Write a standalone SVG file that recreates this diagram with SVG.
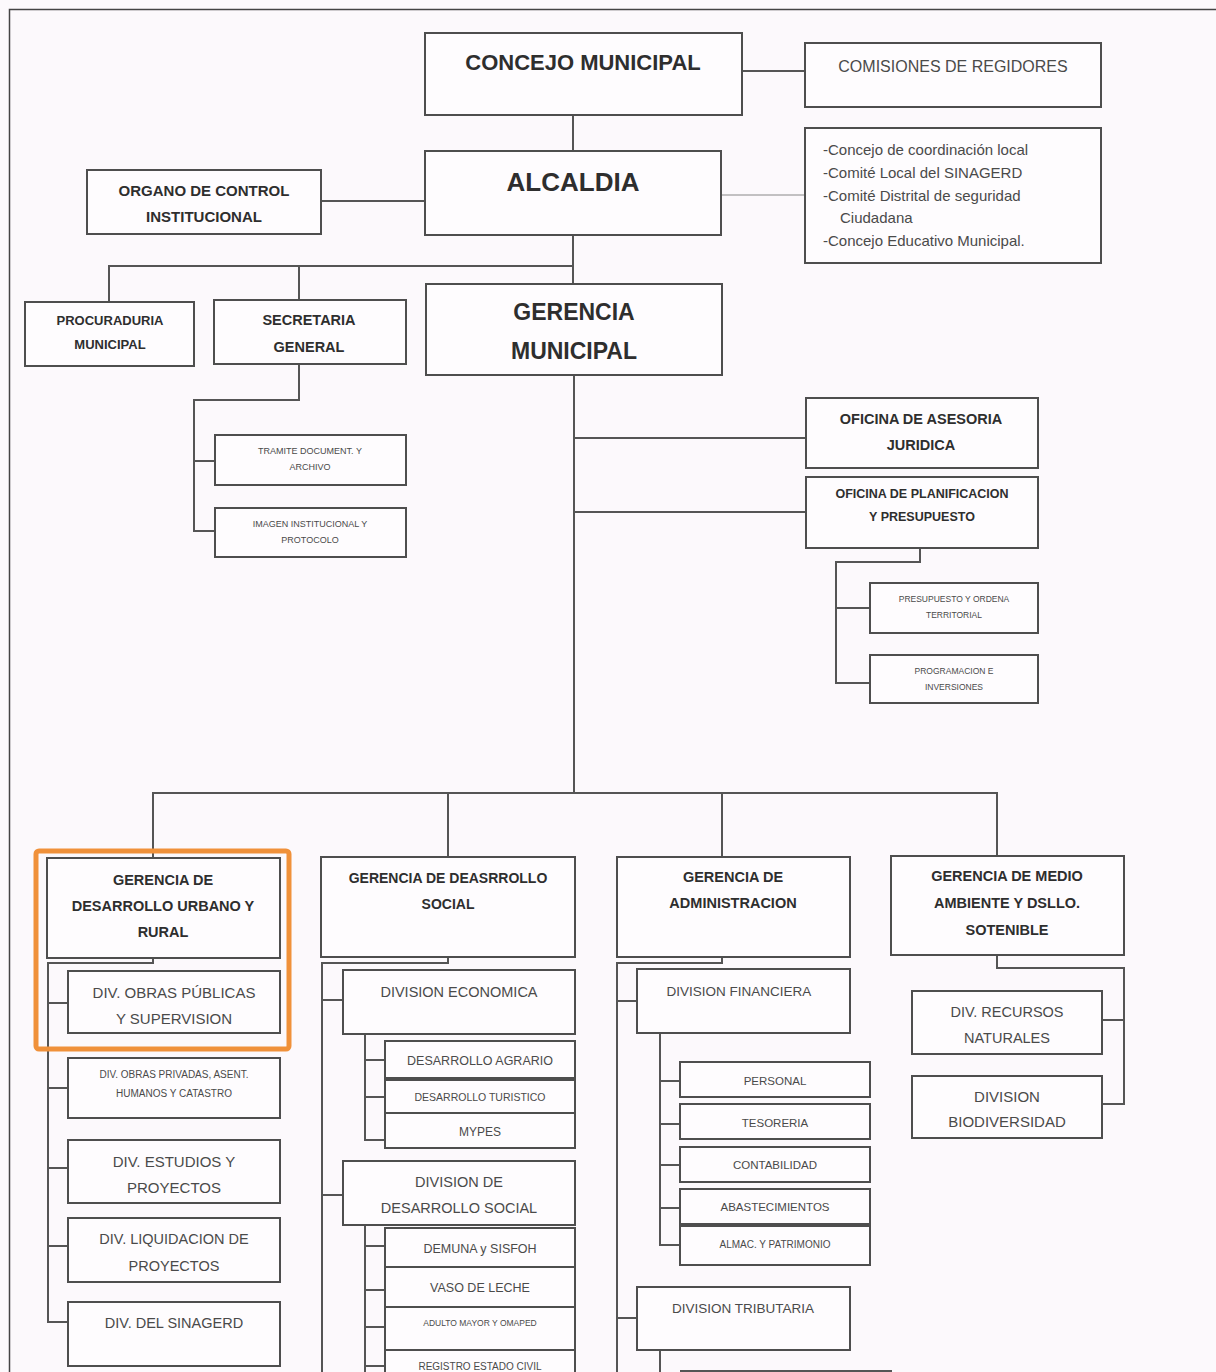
<svg xmlns="http://www.w3.org/2000/svg" width="1216" height="1372" viewBox="0 0 1216 1372">
<style>
.bg{fill:#fcf9fc}
.b{fill:#fefcfe;stroke:#4e4e4e;stroke-width:2}
.l{fill:none;stroke:#555;stroke-width:2}
.thin{fill:none;stroke:#888;stroke-width:1}
text{font-family:"Liberation Sans",Arial,sans-serif;text-anchor:middle}
.tb{font-weight:bold;fill:#2e2e2e}
.tr{fill:#4a4a4a}
.tl{fill:#4a4a4a;text-anchor:start}
</style>
<rect class="bg" x="0" y="0" width="1216" height="1372"/>
<path d="M9.5 1372V9.5H1216" fill="none" stroke="#444" stroke-width="1.5"/>

<g id="connectors">
<path class="l" d="M742 71H805"/>
<path class="l" d="M573 115V151"/>
<path class="thin" d="M721 195H805"/>
<path class="l" d="M321 201H425"/>
<path class="l" d="M573 235V285"/>
<path class="l" d="M109 302V266H573"/>
<path class="l" d="M299 266V300"/>
<path class="l" d="M299 364V400H194V531H215"/>
<path class="l" d="M194 461H215"/>
<path class="l" d="M574 375V793"/>
<path class="l" d="M574 438H806"/>
<path class="l" d="M574 512H806"/>
<path class="l" d="M920 548V562H836V683H870"/>
<path class="l" d="M836 608H870"/>
<path class="l" d="M153 858V793H997V856"/>
<path class="l" d="M448 793V857"/>
<path class="l" d="M722 793V857"/>
<path class="l" d="M153 958V963H48V1322H68"/>
<path class="l" d="M48 1003H68M48 1088H68M48 1168H68M48 1246H68"/>
<path class="l" d="M448 957V963H322V1372"/>
<path class="l" d="M322 1000H343M322 1195H343"/>
<path class="l" d="M365 1034V1140H385M365 1060H385M365 1097H385"/>
<path class="l" d="M365 1225V1372M365 1246H385M365 1290H385M365 1327H385M365 1366H385"/>
<path class="l" d="M722 957V963H617V1372"/>
<path class="l" d="M617 1001H637M617 1318H637"/>
<path class="l" d="M660 1033V1245H680M660 1081H680M660 1124H680M660 1165H680M660 1208H680"/>
<path class="l" d="M660 1350V1372"/>
<path class="l" d="M680 1371H892"/>
<path class="l" d="M997 955V968H1124V1104H1102M1102 1020H1124"/>
</g>

<g id="concejo"><rect class="b" x="425" y="33" width="317" height="82"/><text class="tb" x="583" y="70" font-size="22">CONCEJO MUNICIPAL</text></g>
<g id="comisiones"><rect class="b" x="805" y="43" width="296" height="64"/><text class="tr" x="953" y="72" font-size="16">COMISIONES DE REGIDORES</text></g>
<g id="alcaldia"><rect class="b" x="425" y="151" width="296" height="84"/><text class="tb" x="573" y="191" font-size="26">ALCALDIA</text></g>
<g id="comites"><rect class="b" x="805" y="128" width="296" height="135"/>
<text class="tl" font-size="15"><tspan x="823" y="155">-Concejo de coordinación local</tspan><tspan x="823" y="178">-Comité Local del SINAGERD</tspan><tspan x="823" y="201">-Comité Distrital de seguridad</tspan><tspan x="840" y="223">Ciudadana</tspan><tspan x="823" y="246">-Concejo Educativo Municipal.</tspan></text></g>
<g id="organo"><rect class="b" x="87" y="170" width="234" height="64"/><text class="tb" x="204" font-size="15"><tspan x="204" y="196">ORGANO DE CONTROL</tspan><tspan x="204" y="222">INSTITUCIONAL</tspan></text></g>
<g id="procuraduria"><rect class="b" x="25" y="302" width="169" height="64"/><text class="tb" font-size="13"><tspan x="110" y="325">PROCURADURIA</tspan><tspan x="110" y="349">MUNICIPAL</tspan></text></g>
<g id="secretaria"><rect class="b" x="214" y="300" width="192" height="64"/><text class="tb" font-size="14.5"><tspan x="309" y="325">SECRETARIA</tspan><tspan x="309" y="352">GENERAL</tspan></text></g>
<g id="gerencia-municipal"><rect class="b" x="426" y="284" width="296" height="91"/><text class="tb" font-size="23"><tspan x="574" y="320">GERENCIA</tspan><tspan x="574" y="359">MUNICIPAL</tspan></text></g>
<g id="tramite"><rect class="b" x="215" y="435" width="191" height="50"/><text class="tr" font-size="9"><tspan x="310" y="454">TRAMITE DOCUMENT.  Y</tspan><tspan x="310" y="470">ARCHIVO</tspan></text></g>
<g id="imagen"><rect class="b" x="215" y="508" width="191" height="49"/><text class="tr" font-size="9"><tspan x="310" y="527">IMAGEN INSTITUCIONAL Y</tspan><tspan x="310" y="543">PROTOCOLO</tspan></text></g>
<g id="asesoria"><rect class="b" x="806" y="398" width="232" height="70"/><text class="tb" font-size="14.5"><tspan x="921" y="424">OFICINA DE ASESORIA</tspan><tspan x="921" y="450">JURIDICA</tspan></text></g>
<g id="planificacion"><rect class="b" x="806" y="477" width="232" height="71"/><text class="tb" font-size="12.5"><tspan x="922" y="498">OFICINA DE PLANIFICACION</tspan><tspan x="922" y="521">Y PRESUPUESTO</tspan></text></g>
<g id="presupuesto"><rect class="b" x="870" y="583" width="168" height="50"/><text class="tr" font-size="8.5"><tspan x="954" y="602">PRESUPUESTO Y ORDENA</tspan><tspan x="954" y="618">TERRITORIAL</tspan></text></g>
<g id="programacion"><rect class="b" x="870" y="655" width="168" height="48"/><text class="tr" font-size="8.5"><tspan x="954" y="674">PROGRAMACION E</tspan><tspan x="954" y="690">INVERSIONES</tspan></text></g>

<g id="gerencia-urbano"><rect class="b" x="47" y="858" width="233" height="100"/><text class="tb" font-size="14.5"><tspan x="163" y="885">GERENCIA DE</tspan><tspan x="163" y="911">DESARROLLO URBANO Y</tspan><tspan x="163" y="937">RURAL</tspan></text></g>
<g id="obras-publicas"><rect class="b" x="68" y="971" width="212" height="62"/><text class="tr" font-size="15"><tspan x="174" y="998">DIV. OBRAS PÚBLICAS</tspan><tspan x="174" y="1024">Y SUPERVISION</tspan></text></g>
<g id="obras-privadas"><rect class="b" x="68" y="1058" width="212" height="60"/><text class="tr" font-size="10"><tspan x="174" y="1078">DIV. OBRAS PRIVADAS, ASENT.</tspan><tspan x="174" y="1097">HUMANOS Y CATASTRO</tspan></text></g>
<g id="estudios"><rect class="b" x="68" y="1140" width="212" height="63"/><text class="tr" font-size="15"><tspan x="174" y="1167">DIV. ESTUDIOS Y</tspan><tspan x="174" y="1193">PROYECTOS</tspan></text></g>
<g id="liquidacion"><rect class="b" x="68" y="1218" width="212" height="64"/><text class="tr" font-size="14.5"><tspan x="174" y="1244">DIV. LIQUIDACION DE</tspan><tspan x="174" y="1271">PROYECTOS</tspan></text></g>
<g id="sinagerd"><rect class="b" x="68" y="1302" width="212" height="64"/><text class="tr" x="174" y="1328" font-size="14.5">DIV. DEL SINAGERD</text></g>
<rect x="36" y="851" width="253" height="198" rx="3" fill="none" stroke="#f0913a" stroke-width="5"/>

<g id="gerencia-social"><rect class="b" x="321" y="857" width="254" height="100"/><text class="tb" font-size="14"><tspan x="448" y="883">GERENCIA DE  DEASRROLLO</tspan><tspan x="448" y="909">SOCIAL</tspan></text></g>
<g id="div-economica"><rect class="b" x="343" y="970" width="232" height="64"/><text class="tr" x="459" y="997" font-size="14.5">DIVISION ECONOMICA</text></g>
<g id="agrario"><rect class="b" x="385" y="1041" width="190" height="37"/><text class="tr" x="480" y="1065" font-size="12.5">DESARROLLO AGRARIO</text></g>
<g id="turistico"><rect class="b" x="385" y="1080" width="190" height="33"/><text class="tr" x="480" y="1101" font-size="10.5">DESARROLLO TURISTICO</text></g>
<g id="mypes"><rect class="b" x="385" y="1113" width="190" height="35"/><text class="tr" x="480" y="1136" font-size="12">MYPES</text></g>
<g id="div-social"><rect class="b" x="343" y="1161" width="232" height="64"/><text class="tr" font-size="14.5"><tspan x="459" y="1187">DIVISION DE</tspan><tspan x="459" y="1213">DESARROLLO SOCIAL</tspan></text></g>
<g id="demuna"><rect class="b" x="385" y="1228" width="190" height="39"/><text class="tr" x="480" y="1253" font-size="12.5">DEMUNA y SISFOH</text></g>
<g id="vaso"><rect class="b" x="385" y="1267" width="190" height="40"/><text class="tr" x="480" y="1292" font-size="12.5">VASO DE LECHE</text></g>
<g id="adulto"><rect class="b" x="385" y="1307" width="190" height="43"/><text class="tr" x="480" y="1326" font-size="8.5">ADULTO MAYOR Y OMAPED</text></g>
<g id="registro"><rect class="b" x="385" y="1350" width="190" height="30"/><text class="tr" x="480" y="1370" font-size="10">REGISTRO ESTADO CIVIL</text></g>

<g id="gerencia-admin"><rect class="b" x="617" y="857" width="233" height="100"/><text class="tb" font-size="14.5"><tspan x="733" y="882">GERENCIA DE</tspan><tspan x="733" y="908">ADMINISTRACION</tspan></text></g>
<g id="div-financiera"><rect class="b" x="637" y="969" width="213" height="64"/><text class="tr" x="739" y="996" font-size="13.5">DIVISION FINANCIERA</text></g>
<g id="personal"><rect class="b" x="680" y="1062" width="190" height="35"/><text class="tr" x="775" y="1085" font-size="11.5">PERSONAL</text></g>
<g id="tesoreria"><rect class="b" x="680" y="1104" width="190" height="35"/><text class="tr" x="775" y="1127" font-size="11.5">TESORERIA</text></g>
<g id="contabilidad"><rect class="b" x="680" y="1147" width="190" height="35"/><text class="tr" x="775" y="1169" font-size="11.5">CONTABILIDAD</text></g>
<g id="abastecimientos"><rect class="b" x="680" y="1189" width="190" height="35"/><text class="tr" x="775" y="1211" font-size="11.5">ABASTECIMIENTOS</text></g>
<g id="almac"><rect class="b" x="680" y="1226" width="190" height="39"/><text class="tr" x="775" y="1248" font-size="10">ALMAC. Y PATRIMONIO</text></g>
<g id="div-tributaria"><rect class="b" x="637" y="1287" width="213" height="63"/><text class="tr" x="743" y="1313" font-size="13.5">DIVISION TRIBUTARIA</text></g>

<g id="gerencia-ambiente"><rect class="b" x="891" y="856" width="233" height="99"/><text class="tb" font-size="14.5"><tspan x="1007" y="881">GERENCIA DE  MEDIO</tspan><tspan x="1007" y="908">AMBIENTE Y DSLLO.</tspan><tspan x="1007" y="935">SOTENIBLE</tspan></text></g>
<g id="recursos"><rect class="b" x="912" y="991" width="190" height="63"/><text class="tr" font-size="14.5"><tspan x="1007" y="1017">DIV. RECURSOS</tspan><tspan x="1007" y="1043">NATURALES</tspan></text></g>
<g id="biodiversidad"><rect class="b" x="912" y="1076" width="190" height="62"/><text class="tr" font-size="15"><tspan x="1007" y="1102">DIVISION</tspan><tspan x="1007" y="1127">BIODIVERSIDAD</tspan></text></g>
</svg>
